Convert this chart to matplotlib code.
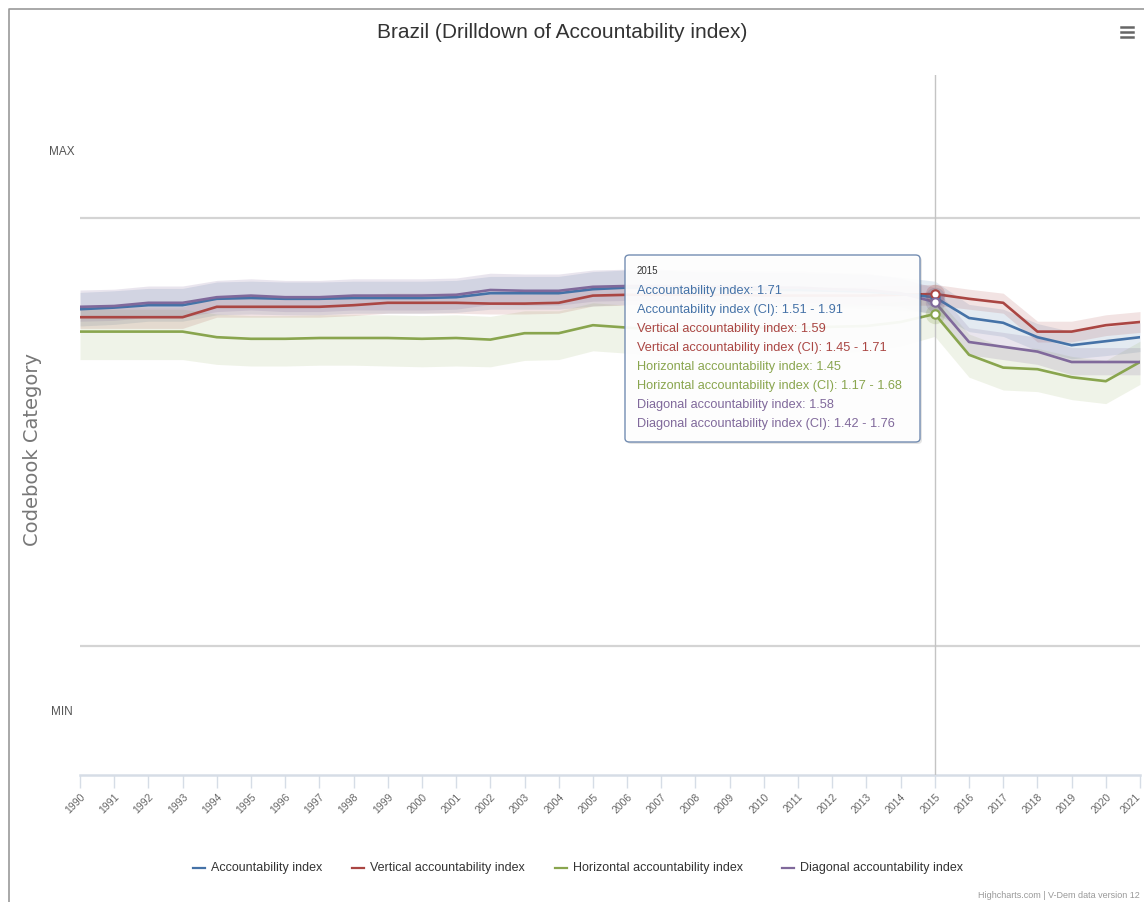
import matplotlib
matplotlib.use("Agg")
import matplotlib.pyplot as plt
from matplotlib import font_manager
from matplotlib import transforms
from matplotlib.patches import FancyBboxPatch
from matplotlib.lines import Line2D

# ---------------------------------------------------------------- data
years = list(range(1990, 2022))

series_names = [
    "Accountability index",
    "Vertical accountability index",
    "Horizontal accountability index",
    "Diagonal accountability index",
]
series_colors = ["#4572A7", "#AA4643", "#89A54E", "#80699B"]

# each index is drawn on its own codebook scale (MIN .. MAX)
scale_min = [-2.65, -2.81, -2.70, -2.72]
scale_max = [2.70, 2.54, 2.65, 2.63]

accountability = [1.56, 1.58, 1.61, 1.61, 1.69, 1.70, 1.69, 1.69, 1.70, 1.70,
                  1.70, 1.71, 1.76, 1.76, 1.76, 1.81, 1.83, 1.83, 1.81, 1.81,
                  1.80, 1.80, 1.79, 1.78, 1.75, 1.71, 1.45, 1.39, 1.21, 1.11,
                  1.16, 1.21]
vertical = [1.30, 1.30, 1.30, 1.30, 1.43, 1.43, 1.43, 1.43, 1.45, 1.48,
            1.48, 1.48, 1.47, 1.47, 1.48, 1.57, 1.58, 1.58, 1.58, 1.58,
            1.57, 1.57, 1.57, 1.57, 1.58, 1.59, 1.53, 1.48, 1.12, 1.12,
            1.20, 1.24]
horizontal = [1.23, 1.23, 1.23, 1.23, 1.16, 1.14, 1.14, 1.15, 1.15, 1.15,
              1.14, 1.15, 1.13, 1.21, 1.21, 1.31, 1.28, 1.25, 1.26, 1.26,
              1.28, 1.28, 1.29, 1.30, 1.35, 1.45, 0.94, 0.78, 0.76, 0.66,
              0.61, 0.85]
diagonal = [1.52, 1.53, 1.57, 1.57, 1.64, 1.66, 1.64, 1.64, 1.66, 1.66,
            1.66, 1.67, 1.73, 1.72, 1.72, 1.77, 1.78, 1.78, 1.77, 1.77,
            1.76, 1.76, 1.74, 1.73, 1.69, 1.58, 1.08, 1.02, 0.96, 0.83,
            0.83, 0.83]

# confidence interval bounds
accountability_lo = [1.35, 1.37, 1.41, 1.41, 1.49, 1.50, 1.49, 1.49, 1.51, 1.51,
                     1.51, 1.52, 1.56, 1.56, 1.56, 1.60, 1.62, 1.62, 1.60, 1.60,
                     1.59, 1.59, 1.58, 1.57, 1.55, 1.51, 1.28, 1.22, 1.04, 0.94,
                     0.98, 1.03]
accountability_hi = [1.77, 1.79, 1.82, 1.82, 1.90, 1.91, 1.90, 1.90, 1.91, 1.91,
                     1.91, 1.92, 1.97, 1.97, 1.97, 2.03, 2.05, 2.05, 2.03, 2.03,
                     2.02, 2.02, 2.01, 2.00, 1.96, 1.91, 1.62, 1.56, 1.38, 1.28,
                     1.34, 1.39]
vertical_lo = [1.16, 1.16, 1.16, 1.16, 1.30, 1.30, 1.30, 1.30, 1.32, 1.35,
               1.35, 1.35, 1.34, 1.34, 1.35, 1.44, 1.45, 1.45, 1.45, 1.45,
               1.44, 1.44, 1.44, 1.44, 1.45, 1.45, 1.40, 1.35, 0.99, 0.99,
               1.07, 1.11]
vertical_hi = [1.43, 1.43, 1.43, 1.43, 1.55, 1.55, 1.55, 1.55, 1.57, 1.60,
               1.60, 1.60, 1.59, 1.59, 1.60, 1.69, 1.70, 1.70, 1.70, 1.70,
               1.69, 1.69, 1.69, 1.69, 1.70, 1.71, 1.65, 1.60, 1.25, 1.25,
               1.33, 1.37]
horizontal_lo = [0.88, 0.88, 0.88, 0.88, 0.82, 0.80, 0.80, 0.81, 0.81, 0.80,
                 0.79, 0.80, 0.79, 0.87, 0.88, 0.99, 0.96, 0.93, 0.94, 0.94,
                 0.96, 0.96, 0.97, 0.98, 1.05, 1.17, 0.66, 0.50, 0.48, 0.38,
                 0.33, 0.57]
horizontal_hi = [1.51, 1.51, 1.51, 1.51, 1.45, 1.43, 1.43, 1.44, 1.44, 1.44,
                 1.43, 1.44, 1.42, 1.49, 1.49, 1.59, 1.56, 1.53, 1.54, 1.54,
                 1.56, 1.56, 1.57, 1.58, 1.61, 1.68, 1.20, 1.04, 1.02, 0.92,
                 0.87, 1.11]
diagonal_lo = [1.34, 1.35, 1.39, 1.39, 1.46, 1.48, 1.46, 1.46, 1.48, 1.48,
               1.48, 1.49, 1.55, 1.54, 1.54, 1.59, 1.60, 1.60, 1.59, 1.59,
               1.58, 1.58, 1.56, 1.55, 1.52, 1.42, 0.92, 0.86, 0.80, 0.67,
               0.67, 0.67]
diagonal_hi = [1.73, 1.74, 1.78, 1.78, 1.85, 1.87, 1.85, 1.85, 1.87, 1.87,
               1.87, 1.88, 1.94, 1.93, 1.93, 1.98, 1.99, 1.99, 1.98, 1.98,
               1.97, 1.97, 1.95, 1.94, 1.88, 1.76, 1.26, 1.20, 1.14, 1.01,
               1.01, 1.01]

series_values = [accountability, vertical, horizontal, diagonal]
series_lo = [accountability_lo, vertical_lo, horizontal_lo, diagonal_lo]
series_hi = [accountability_hi, vertical_hi, horizontal_hi, diagonal_hi]

hover_year = 2015

# ---------------------------------------------------------------- fonts
available = {f.name for f in font_manager.fontManager.ttflist}
BASE = "Liberation Sans Narrow" if "Liberation Sans Narrow" in available else "Liberation Sans"
plt.rcParams["font.family"] = [BASE, "DejaVu Sans"]

W, H = 1144, 902
fig = plt.figure(figsize=(W / 100, H / 100), dpi=100)
fig.patch.set_facecolor("white")


def fx(px):
    return px / W


def fy(py):
    return 1 - py / H


# plot area (pixel box of the chart body)
left_px, right_px, top_px, bottom_px = 80, 1140, 75, 775
ax = fig.add_axes([fx(left_px), fy(bottom_px),
                   (right_px - left_px) / W, (bottom_px - top_px) / H])
ax.set_facecolor("none")

# MIN..MAX band occupies the gridline positions; extra room above / below
grid_top_px, grid_bot_px = 218, 646
span = grid_bot_px - grid_top_px
ax.set_ylim((grid_bot_px - bottom_px) / span, (grid_bot_px - top_px) / span)
ax.set_xlim(years[0], years[-1])


def norm(v, i):
    return [(x - scale_min[i]) / (scale_max[i] - scale_min[i]) for x in v]


for s in ax.spines.values():
    s.set_visible(False)

ax.axhline(1.0, color="#d4d4d4", lw=1.6, zorder=1)
ax.axhline(0.0, color="#d4d4d4", lw=1.6, zorder=1)
ax.axhline(ax.get_ylim()[0], color="#d6dde6", lw=1.8, zorder=1, clip_on=False)

# confidence bands first, then lines
band_alpha = [0.15, 0.15, 0.13, 0.17]
for i in range(4):
    ax.fill_between(years, norm(series_lo[i], i), norm(series_hi[i], i),
                    color=series_colors[i], alpha=band_alpha[i], lw=0, zorder=2)
for i in (2, 1, 0, 3):
    ax.plot(years, norm(series_values[i], i), color=series_colors[i],
            lw=1.9, zorder=3, solid_joinstyle="round")

# crosshair at the hovered year
ax.axvline(hover_year, color="#c4c4c4", lw=1.0, zorder=4)

hi_idx = years.index(hover_year)
for i in range(4):
    yv = norm(series_values[i], i)[hi_idx]
    ax.plot(hover_year, yv, "o", ms=14, color=series_colors[i], alpha=0.22,
            mec="none", zorder=5)
    ax.plot(hover_year, yv, "o", ms=6, mfc="white", mec=series_colors[i],
            mew=1.5, zorder=6)

ax.set_yticks([])
ax.set_xticks(years)
ax.set_xticklabels([str(y) for y in years], rotation=45, ha="right",
                   rotation_mode="anchor", fontsize=7.5, color="#666666")
ax.tick_params(axis="x", length=9, width=1, color="#d6dde6", pad=3)
# keep the last rotated label inside the canvas
last_label = ax.get_xticklabels()[-1]
last_label.set_transform(last_label.get_transform() +
                         transforms.ScaledTranslation(-5 / 100, 0,
                                                      fig.dpi_scale_trans))

# y-axis labels
fig.text(fx(62), fy(152), "MAX", ha="center", va="center", fontsize=8.5,
         color="#555555")
fig.text(fx(62), fy(712), "MIN", ha="center", va="center", fontsize=8.5,
         color="#555555")
fig.text(fx(33), fy(450), "Codebook Category", rotation=90, ha="center",
         va="center", fontsize=14, color="#777777", family="DejaVu Sans")

# title and menu button
fig.text(fx(562), fy(32), "Brazil (Drilldown of Accountability index)",
         ha="center", va="center", fontsize=15, color="#333333")
for dy in (-5, 0, 5):
    fig.add_artist(Line2D([fx(1121), fx(1133)], [fy(32 + dy), fy(32 + dy)],
                          color="#666666", lw=1.8))

# outer frame
fig.add_artist(Line2D([fx(9), fx(9), fx(W)], [0, fy(9), fy(9)],
                      color="#9a9a9a", lw=1.2))

# tooltip
tx0, ty0, tx1, ty1 = 625, 255, 920, 442
fig.add_artist(FancyBboxPatch((fx(tx0 + 2), fy(ty1 + 2)), (tx1 - tx0) / W,
                              (ty1 - ty0) / H,
                              boxstyle="round,pad=0,rounding_size=0.004",
                              transform=fig.transFigure, fc="#000000",
                              ec="none", alpha=0.10, zorder=8))
fig.add_artist(FancyBboxPatch((fx(tx0), fy(ty1)), (tx1 - tx0) / W,
                              (ty1 - ty0) / H,
                              boxstyle="round,pad=0,rounding_size=0.004",
                              transform=fig.transFigure, fc="#ffffff",
                              ec="#6b86ad", lw=1.0, alpha=0.94, zorder=9))
fig.text(fx(637), fy(271), str(hover_year), fontsize=7, color="#333333",
         va="center", zorder=10)
line_y = 291
for i in range(4):
    v = series_values[i][hi_idx]
    lo = series_lo[i][hi_idx]
    hi = series_hi[i][hi_idx]
    fig.text(fx(637), fy(line_y), f"{series_names[i]}: {v:.2f}",
             fontsize=9.2, color=series_colors[i], va="center", zorder=10)
    fig.text(fx(637), fy(line_y + 19),
             f"{series_names[i]} (CI): {lo:.2f} - {hi:.2f}",
             fontsize=9.2, color=series_colors[i], va="center", zorder=10)
    line_y += 38

# legend
legend_x = [193, 352, 555, 782]
for i in range(4):
    x0 = legend_x[i]
    fig.add_artist(Line2D([fx(x0), fx(x0 + 12)], [fy(868), fy(868)],
                          color=series_colors[i], lw=1.6))
    fig.text(fx(x0 + 18), fy(868), series_names[i], fontsize=9,
             color="#333333", va="center")

# credits
fig.text(fx(1140), fy(896), "Highcharts.com | V-Dem data version 12",
         ha="right", va="center", fontsize=6.5, color="#999999")

fig.savefig("out.png", dpi=100, facecolor="white")
